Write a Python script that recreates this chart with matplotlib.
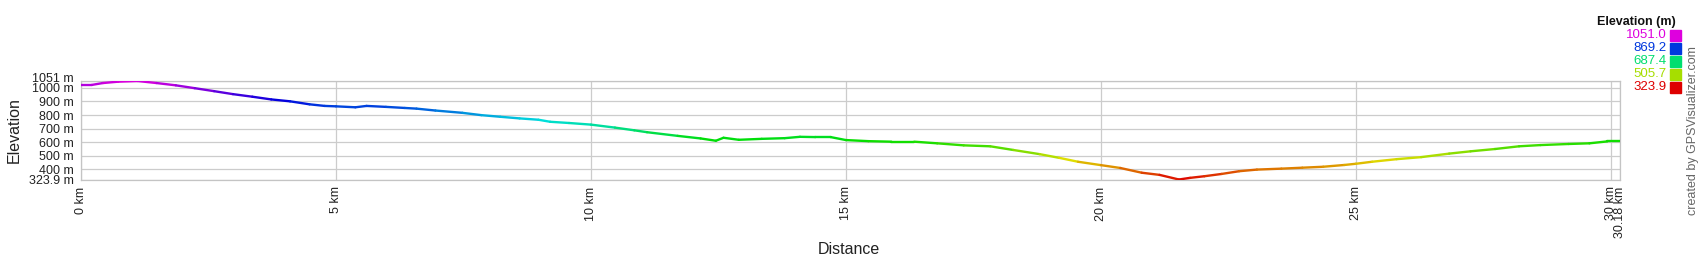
import colorsys
import matplotlib
matplotlib.use("Agg")
import matplotlib.pyplot as plt
import matplotlib.transforms as mtransforms
from matplotlib.collections import LineCollection
import numpy as np

plt.rcParams['font.family'] = ['Liberation Sans', 'DejaVu Sans']

# distance (km) and elevation (m)
dist = [0.0, 0.21, 0.43, 0.73, 1.11, 1.48, 1.86, 2.23, 2.61, 2.98, 3.36, 3.73,
        4.1, 4.48, 4.78, 5.0, 5.38, 5.6, 5.98, 6.35, 6.58, 6.95, 7.48, 7.85,
        8.22, 8.6, 8.97, 9.2, 9.57, 10.0, 10.47, 10.85, 11.1, 11.7, 12.15,
        12.45, 12.6, 12.9, 13.35, 13.8, 14.1, 14.4, 14.7, 15.0, 15.44, 15.89,
        16.34, 16.79, 17.31, 17.83, 18.28, 18.8, 19.18, 19.55, 20.0, 20.38,
        20.8, 21.15, 21.53, 21.75, 22.03, 22.37, 22.71, 23.06, 23.54, 23.95,
        24.36, 24.77, 25.0, 25.32, 25.8, 26.28, 26.83, 27.25, 27.73, 28.2,
        28.62, 29.17, 29.58, 29.93, 30.18]
elev = [1022, 1022, 1036, 1046, 1051, 1036, 1019, 998, 976, 954, 935, 915,
        901, 879, 867, 864, 857, 867, 860, 852, 847, 833, 816, 799,
        787, 775, 765, 750, 741, 729, 707, 687, 673, 646, 627,
        610, 632, 617, 624, 629, 639, 637, 637, 615, 607, 603,
        603, 591, 576, 569, 542, 511, 484, 455, 430, 409,
        374, 358, 323.9, 336, 348, 365, 385, 397, 404, 411,
        418, 431, 440, 455, 474, 489, 515, 532, 549, 569,
        578, 586, 591, 605, 605]

y_ticks = [323.9, 400, 500, 600, 700, 800, 900, 1000, 1051]
y_labels = ["323.9 m", "400 m", "500 m", "600 m", "700 m", "800 m", "900 m", "1000 m", "1051 m"]
x_ticks = [0, 5, 10, 15, 20, 25, 30, 30.18]
x_labels = ["0 km", "5 km", "10 km", "15 km", "20 km", "25 km", "30 km", "30.18 km"]
legend_vals = [1051.0, 869.2, 687.4, 505.7, 323.9]

e_min, e_max = 323.9, 1051.0


def elev_color(e):
    # red at the lowest point through the hues up to magenta at the top
    frac = (e - e_min) / (e_max - e_min)
    return colorsys.hsv_to_rgb(frac * 300 / 360, 1.0, 0.87)


fig = plt.figure(figsize=(17, 2.6), dpi=100)
ax = fig.add_axes([81 / 1700, 80.5 / 260, 1539 / 1700, 98.5 / 260])

pts = np.column_stack([dist, elev])
segs = np.stack([pts[:-1], pts[1:]], axis=1)
mids = [(elev[i] + elev[i + 1]) / 2 for i in range(len(elev) - 1)]
lc = LineCollection(segs, colors=[elev_color(m) for m in mids], linewidth=1.7,
                    capstyle='round', joinstyle='round', zorder=3)
ax.add_collection(lc)

ax.set_xlim(0, 30.18)
ax.set_ylim(e_min, e_max)
ax.set_yticks(y_ticks)
ax.set_yticklabels(y_labels)
ax.set_xticks(x_ticks)
ax.set_xticklabels(x_labels, rotation=90)
ax.tick_params(length=0, labelsize=9, colors='#222222', pad=5)
ax.grid(True, color='#cccccc', linewidth=0.9)
for s in ax.spines.values():
    s.set_color('#c4c4c4')
    s.set_linewidth(0.9)

# top label sits a little higher, like the original
top_lbl = ax.get_yticklabels()[-1]
top_lbl.set_transform(top_lbl.get_transform() +
                      mtransforms.ScaledTranslation(0, 3 / 100, fig.dpi_scale_trans))

fig.text(14 / 1700, 1 - 130 / 260, "Elevation", rotation=90, ha='center', va='center',
         fontsize=11.5, color='#222222')
fig.text(849 / 1700, 1 - 250 / 260, "Distance", ha='center', va='center',
         fontsize=11.5, color='#222222')

# colour key, top right
fig.text(1676 / 1700, 1 - 21.5 / 260, "Elevation (m)", ha='right', va='center',
         fontsize=9, fontweight='bold', color='#111111')
for i, v in enumerate(legend_vals):
    yc = 35 + i * 13.1
    c = elev_color(v)
    fig.text(1667 / 1700, 1 - yc / 260, f"{v:.1f}", ha='right', va='center',
             fontsize=9.5, color=c)
    fig.patches.append(plt.Rectangle((1670 / 1700, 1 - (yc + 5.5) / 260), 11 / 1700, 11 / 260,
                                     transform=fig.transFigure, color=c, figure=fig))

fig.text(1693 / 1700, 1 - 131 / 260, "created by GPSVisualizer.com", rotation=90,
         ha='center', va='center', fontsize=9, color='#666666')

fig.savefig("out.png", dpi=100)
